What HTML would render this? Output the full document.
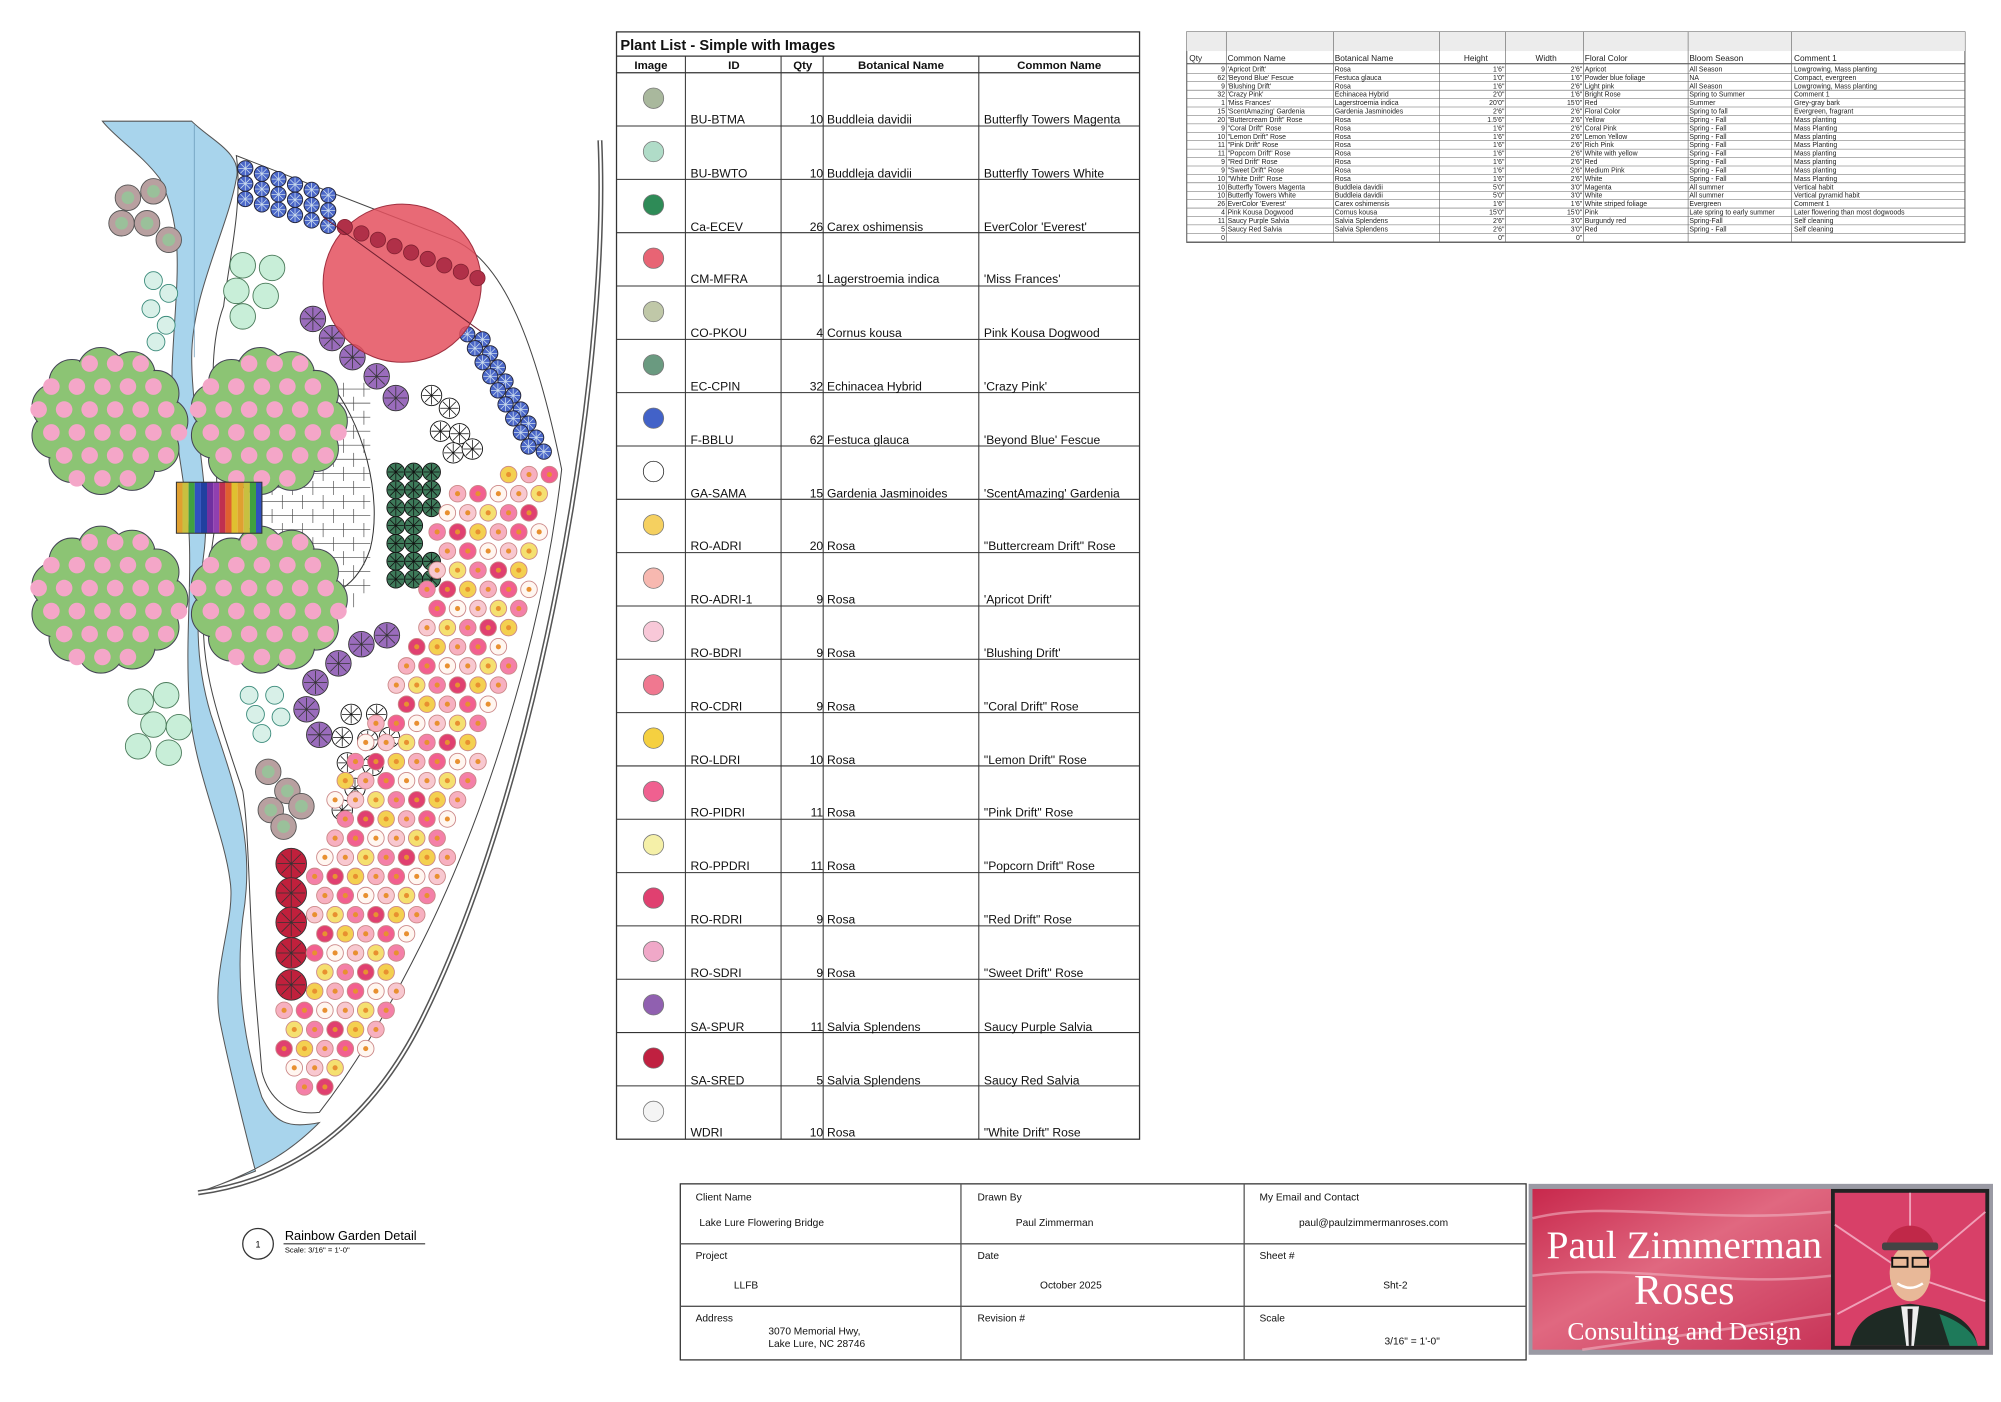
<!DOCTYPE html>
<html><head><meta charset="utf-8">
<style>
html,body{margin:0;padding:0;background:#fff;}
svg{display:block;}
text{font-family:"Liberation Sans",Arial,sans-serif;}
</style></head>
<body>
<svg id="g" width="2001" height="1402" viewBox="0 0 1568 1099" xmlns="http://www.w3.org/2000/svg">
<rect width="1568" height="1099" fill="#fff"/>
<!-- river -->
<path d="M80 95 L150 95 C165 110 190 120 185 140 C178 180 150 230 150 280 C150 330 165 380 160 430 C155 470 150 510 165 560 C185 620 200 660 190 720 C183 780 195 830 205 860 C215 880 225 885 250 880 C230 900 210 915 155 935 L200 918 C190 880 178 830 172 800 C165 760 185 720 180 690 C175 650 150 600 148 550 C145 500 150 460 148 420 C145 370 132 330 135 280 C138 220 145 180 125 140 C110 120 90 108 80 95 Z" fill="#a8d4ec" stroke="#555" stroke-width="0.8"/>
<line x1="152" y1="98" x2="152" y2="280" stroke="#6a9ab8" stroke-width="0.6"/>
<!-- garden wedge outline -->
<path d="M185 122 L355 188 C395 205 420 270 440 368 C425 500 380 640 330 740 C300 800 275 840 250 872 C225 875 210 860 205 840 L200 780 C195 720 195 650 190 620 C170 560 155 520 160 470 L170 400 C170 330 160 280 175 240 C180 200 190 160 185 122 Z" fill="#fff" stroke="#444" stroke-width="0.8"/>
<!-- outer curve -->
<path d="M470 110 C478 300 420 620 330 800 C290 880 230 925 155 935" fill="none" stroke="#555" stroke-width="4"/>
<path d="M470 110 C478 300 420 620 330 800 C290 880 230 925 155 935" fill="none" stroke="#fff" stroke-width="1.6"/>
<g id="plants"></g>
<!-- patio -->
<path d="M205 300 L255 296 C285 330 300 390 290 430 C280 460 260 470 235 470 L205 470 Z" fill="#fff" stroke="#333" stroke-width="0.8"/>
<g id="patio"></g>
<g id="trees"></g>
<g id="bridge"></g>
<circle cx="315" cy="222" r="62" fill="#e4505e" fill-opacity="0.85" stroke="#a03040" stroke-width="0.8"/>
<g id="over"></g>

<!-- caption -->
<circle cx="202" cy="975" r="12" fill="#fff" stroke="#333" stroke-width="1"/>
<text x="202" y="978" font-size="7" text-anchor="middle">1</text>
<text x="223" y="972" font-size="10">Rainbow Garden Detail</text>
<line x1="222" y1="975" x2="333" y2="975" stroke="#333" stroke-width="0.8"/>
<text x="223" y="982" font-size="6">Scale: 3/16" = 1'-0"</text>

<!-- plant list table -->
<g id="pl" font-size="9.5" fill="#111">
<rect x="483" y="25" width="410" height="868" fill="none" stroke="#333" stroke-width="1"/>
<text x="486" y="39" font-size="11.5" font-weight="bold">Plant List - Simple with Images</text>
<line x1="483" y1="44" x2="893" y2="44" stroke="#333"/>
<line x1="483" y1="57" x2="893" y2="57" stroke="#333"/>
<text x="510" y="54" font-size="9" font-weight="bold" text-anchor="middle">Image</text>
<text x="575" y="54" font-size="9" font-weight="bold" text-anchor="middle">ID</text>
<text x="629" y="54" font-size="9" font-weight="bold" text-anchor="middle">Qty</text>
<text x="706" y="54" font-size="9" font-weight="bold" text-anchor="middle">Botanical Name</text>
<text x="830" y="54" font-size="9" font-weight="bold" text-anchor="middle">Common Name</text>
</g>

<!-- top right table -->
<g id="tr" font-size="5.6" fill="#222">
<rect x="930" y="25" width="610" height="165" fill="none" stroke="#555" stroke-width="0.8"/>
<rect x="930" y="25" width="610" height="15" fill="#ececec"/>
<line x1="930" y1="50" x2="1540" y2="50" stroke="#444" stroke-width="0.8"/>
<text x="932" y="48" font-size="6.5">Qty</text>
<text x="962" y="48" font-size="6.5">Common Name</text>
<text x="1046" y="48" font-size="6.5">Botanical Name</text>
<text x="1166" y="48" font-size="6.5" text-anchor="end">Height</text>
<text x="1220" y="48" font-size="6.5" text-anchor="end">Width</text>
<text x="1242" y="48" font-size="6.5">Floral Color</text>
<text x="1324" y="48" font-size="6.5">Bloom Season</text>
<text x="1406" y="48" font-size="6.5">Comment 1</text>
</g>

<!-- title block -->
<g font-size="8" fill="#111">
<rect x="533" y="928" width="663" height="138" fill="none" stroke="#333" stroke-width="1"/>
<line x1="533" y1="975" x2="1196" y2="975" stroke="#555"/>
<line x1="533" y1="1024" x2="1196" y2="1024" stroke="#555"/>
<line x1="753" y1="928" x2="753" y2="1066" stroke="#555"/>
<line x1="975" y1="928" x2="975" y2="1066" stroke="#555"/>
<text x="545" y="941">Client Name</text>
<text x="548" y="961">Lake Lure Flowering Bridge</text>
<text x="766" y="941">Drawn By</text>
<text x="796" y="961">Paul Zimmerman</text>
<text x="987" y="941">My Email and Contact</text>
<text x="1018" y="961">paul@paulzimmermanroses.com</text>
<text x="545" y="987">Project</text>
<text x="575" y="1010">LLFB</text>
<text x="766" y="987">Date</text>
<text x="815" y="1010">October 2025</text>
<text x="987" y="987">Sheet #</text>
<text x="1084" y="1010">Sht-2</text>
<text x="545" y="1036">Address</text>
<text x="602" y="1046">3070 Memorial Hwy,</text>
<text x="602" y="1056">Lake Lure, NC  28746</text>
<text x="766" y="1036">Revision #</text>
<text x="987" y="1036">Scale</text>
<text x="1085" y="1054">3/16" = 1'-0"</text>
</g>
<!-- logo -->
<defs>
<linearGradient id="lg" x1="0" y1="0" x2="1" y2="1">
<stop offset="0" stop-color="#c8284c"/><stop offset="0.45" stop-color="#e06880"/><stop offset="1" stop-color="#c83458"/>
</linearGradient>
</defs>
<rect x="1198" y="928" width="364" height="134" fill="#9a9aa4"/>
<rect x="1201" y="932" width="234" height="126" fill="url(#lg)"/>
<path d="M1201 955 C1260 940 1330 960 1435 950 M1201 1000 C1280 990 1350 1010 1435 1000 M1240 1058 L1435 1030" stroke="#f0b0c0" stroke-width="2" fill="none" opacity="0.6"/>
<rect x="1435" y="932" width="124" height="126" fill="#222"/>
<rect x="1438" y="935" width="118" height="120" fill="#d84068"/>
<path d="M1497 935 L1497 1000 M1438 960 L1497 1000 L1556 950 M1440 1030 L1497 1000 L1556 1020" stroke="#f0a0b8" stroke-width="1.5" fill="none"/>
<path d="M1450 1055 C1455 1030 1475 1025 1497 1022 C1520 1025 1545 1030 1550 1055 Z" fill="#1e2a24"/>
<path d="M1520 1030 C1535 1035 1548 1045 1550 1055 L1528 1055 Z" fill="#1e7a5a"/>
<path d="M1490 1024 L1504 1024 L1500 1055 L1494 1055 Z" fill="#eee"/>
<path d="M1495 1026 L1499 1026 L1498 1055 L1496 1055 Z" fill="#222"/>
<ellipse cx="1497" cy="998" rx="16" ry="22" fill="#e8b898"/>
<path d="M1478 978 C1480 955 1514 955 1516 978 Z" fill="#c02848"/>
<rect x="1475" y="974" width="44" height="6" rx="2" fill="#444"/>
<rect x="1483" y="986" width="12" height="7" fill="none" stroke="#111" stroke-width="1.5"/>
<rect x="1499" y="986" width="12" height="7" fill="none" stroke="#111" stroke-width="1.5"/>
<path d="M1487 1006 Q1497 1013 1507 1006" stroke="#fff" stroke-width="2" fill="none"/>
<text x="1320" y="986" font-size="31" fill="#fff" text-anchor="middle" style="font-family:'Liberation Serif',serif">Paul Zimmerman</text>
<text x="1320" y="1022" font-size="33" fill="#fff" text-anchor="middle" style="font-family:'Liberation Serif',serif">Roses</text>
<text x="1320" y="1050" font-size="20" fill="#fff" text-anchor="middle" style="font-family:'Liberation Serif',serif">Consulting and Design</text>

<!-- static plant list rows -->
<g font-size="9.5" fill="#111">
<text x="541" y="97">BU-BTMA</text><text x="645" y="97" text-anchor="end">10</text><text x="648" y="97">Buddleia davidii</text><text x="771" y="97">Butterfly Towers Magenta</text>
<text x="541" y="139">BU-BWTO</text><text x="645" y="139" text-anchor="end">10</text><text x="648" y="139">Buddleja davidii</text><text x="771" y="139">Butterfly Towers White</text>
<text x="541" y="181">Ca-ECEV</text><text x="645" y="181" text-anchor="end">26</text><text x="648" y="181">Carex oshimensis</text><text x="771" y="181">EverColor 'Everest'</text>
<text x="541" y="222">CM-MFRA</text><text x="645" y="222" text-anchor="end">1</text><text x="648" y="222">Lagerstroemia indica</text><text x="771" y="222">'Miss Frances'</text>
<text x="541" y="264">CO-PKOU</text><text x="645" y="264" text-anchor="end">4</text><text x="648" y="264">Cornus kousa</text><text x="771" y="264">Pink Kousa Dogwood</text>
<text x="541" y="306">EC-CPIN</text><text x="645" y="306" text-anchor="end">32</text><text x="648" y="306">Echinacea Hybrid</text><text x="771" y="306">'Crazy Pink'</text>
<text x="541" y="348">F-BBLU</text><text x="645" y="348" text-anchor="end">62</text><text x="648" y="348">Festuca glauca</text><text x="771" y="348">'Beyond Blue' Fescue</text>
<text x="541" y="390">GA-SAMA</text><text x="645" y="390" text-anchor="end">15</text><text x="648" y="390">Gardenia Jasminoides</text><text x="771" y="390">'ScentAmazing' Gardenia</text>
<text x="541" y="431">RO-ADRI</text><text x="645" y="431" text-anchor="end">20</text><text x="648" y="431">Rosa</text><text x="771" y="431">"Buttercream Drift" Rose</text>
<text x="541" y="473">RO-ADRI-1</text><text x="645" y="473" text-anchor="end">9</text><text x="648" y="473">Rosa</text><text x="771" y="473">'Apricot Drift'</text>
<text x="541" y="515">RO-BDRI</text><text x="645" y="515" text-anchor="end">9</text><text x="648" y="515">Rosa</text><text x="771" y="515">'Blushing Drift'</text>
<text x="541" y="557">RO-CDRI</text><text x="645" y="557" text-anchor="end">9</text><text x="648" y="557">Rosa</text><text x="771" y="557">"Coral Drift" Rose</text>
<text x="541" y="599">RO-LDRI</text><text x="645" y="599" text-anchor="end">10</text><text x="648" y="599">Rosa</text><text x="771" y="599">"Lemon Drift" Rose</text>
<text x="541" y="640">RO-PIDRI</text><text x="645" y="640" text-anchor="end">11</text><text x="648" y="640">Rosa</text><text x="771" y="640">"Pink Drift" Rose</text>
<text x="541" y="682">RO-PPDRI</text><text x="645" y="682" text-anchor="end">11</text><text x="648" y="682">Rosa</text><text x="771" y="682">"Popcorn Drift" Rose</text>
<text x="541" y="724">RO-RDRI</text><text x="645" y="724" text-anchor="end">9</text><text x="648" y="724">Rosa</text><text x="771" y="724">"Red Drift" Rose</text>
<text x="541" y="766">RO-SDRI</text><text x="645" y="766" text-anchor="end">9</text><text x="648" y="766">Rosa</text><text x="771" y="766">"Sweet Drift" Rose</text>
<text x="541" y="808">SA-SPUR</text><text x="645" y="808" text-anchor="end">11</text><text x="648" y="808">Salvia Splendens</text><text x="771" y="808">Saucy Purple Salvia</text>
<text x="541" y="850">SA-SRED</text><text x="645" y="850" text-anchor="end">5</text><text x="648" y="850">Salvia Splendens</text><text x="771" y="850">Saucy Red Salvia</text>
<text x="541" y="891">WDRI</text><text x="645" y="891" text-anchor="end">10</text><text x="648" y="891">Rosa</text><text x="771" y="891">"White Drift" Rose</text>
</g>

<!-- static top-right table rows -->
<g font-size="5.4" fill="#222" transform="translate(0,56) scale(1,1.1) translate(0,-56)">
<text x="960" y="56" text-anchor="end">9</text><text x="962" y="56">'Apricot Drift'</text><text x="1046" y="56">Rosa</text><text x="1179" y="56" text-anchor="end">1'6"</text><text x="1240" y="56" text-anchor="end">2'6"</text><text x="1242" y="56">Apricot</text><text x="1324" y="56">All Season</text><text x="1406" y="56">Lowgrowing, Mass planting</text>
<text x="960" y="62" text-anchor="end">62</text><text x="962" y="62">'Beyond Blue' Fescue</text><text x="1046" y="62">Festuca glauca</text><text x="1179" y="62" text-anchor="end">1'0"</text><text x="1240" y="62" text-anchor="end">1'6"</text><text x="1242" y="62">Powder blue foliage</text><text x="1324" y="62">NA</text><text x="1406" y="62">Compact, evergreen</text>
<text x="960" y="68" text-anchor="end">9</text><text x="962" y="68">'Blushing Drift'</text><text x="1046" y="68">Rosa</text><text x="1179" y="68" text-anchor="end">1'6"</text><text x="1240" y="68" text-anchor="end">2'6"</text><text x="1242" y="68">Light pink</text><text x="1324" y="68">All Season</text><text x="1406" y="68">Lowgrowing, Mass planting</text>
<text x="960" y="74" text-anchor="end">32</text><text x="962" y="74">'Crazy Pink'</text><text x="1046" y="74">Echinacea Hybrid</text><text x="1179" y="74" text-anchor="end">2'0"</text><text x="1240" y="74" text-anchor="end">1'6"</text><text x="1242" y="74">Bright Rose</text><text x="1324" y="74">Spring to Summer</text><text x="1406" y="74">Comment 1</text>
<text x="960" y="80" text-anchor="end">1</text><text x="962" y="80">'Miss Frances'</text><text x="1046" y="80">Lagerstroemia indica</text><text x="1179" y="80" text-anchor="end">20'0"</text><text x="1240" y="80" text-anchor="end">15'0"</text><text x="1242" y="80">Red</text><text x="1324" y="80">Summer</text><text x="1406" y="80">Grey-gray bark</text>
<text x="960" y="86" text-anchor="end">15</text><text x="962" y="86">'ScentAmazing' Gardenia</text><text x="1046" y="86">Gardenia Jasminoides</text><text x="1179" y="86" text-anchor="end">2'6"</text><text x="1240" y="86" text-anchor="end">2'6"</text><text x="1242" y="86">Floral Color</text><text x="1324" y="86">Spring to fall</text><text x="1406" y="86">Evergreen, fragrant</text>
<text x="960" y="92" text-anchor="end">20</text><text x="962" y="92">"Buttercream Drift" Rose</text><text x="1046" y="92">Rosa</text><text x="1179" y="92" text-anchor="end">1.5'6"</text><text x="1240" y="92" text-anchor="end">2'6"</text><text x="1242" y="92">Yellow</text><text x="1324" y="92">Spring - Fall</text><text x="1406" y="92">Mass planting</text>
<text x="960" y="98" text-anchor="end">9</text><text x="962" y="98">"Coral Drift" Rose</text><text x="1046" y="98">Rosa</text><text x="1179" y="98" text-anchor="end">1'6"</text><text x="1240" y="98" text-anchor="end">2'6"</text><text x="1242" y="98">Coral Pink</text><text x="1324" y="98">Spring - Fall</text><text x="1406" y="98">Mass Planting</text>
<text x="960" y="104" text-anchor="end">10</text><text x="962" y="104">"Lemon Drift" Rose</text><text x="1046" y="104">Rosa</text><text x="1179" y="104" text-anchor="end">1'6"</text><text x="1240" y="104" text-anchor="end">2'6"</text><text x="1242" y="104">Lemon Yellow</text><text x="1324" y="104">Spring - Fall</text><text x="1406" y="104">Mass planting</text>
<text x="960" y="110" text-anchor="end">11</text><text x="962" y="110">"Pink Drift" Rose</text><text x="1046" y="110">Rosa</text><text x="1179" y="110" text-anchor="end">1'6"</text><text x="1240" y="110" text-anchor="end">2'6"</text><text x="1242" y="110">Rich Pink</text><text x="1324" y="110">Spring - Fall</text><text x="1406" y="110">Mass Planting</text>
<text x="960" y="116" text-anchor="end">11</text><text x="962" y="116">"Popcorn Drift" Rose</text><text x="1046" y="116">Rosa</text><text x="1179" y="116" text-anchor="end">1'6"</text><text x="1240" y="116" text-anchor="end">2'6"</text><text x="1242" y="116">White with yellow</text><text x="1324" y="116">Spring - Fall</text><text x="1406" y="116">Mass planting</text>
<text x="960" y="122" text-anchor="end">9</text><text x="962" y="122">"Red Drift" Rose</text><text x="1046" y="122">Rosa</text><text x="1179" y="122" text-anchor="end">1'6"</text><text x="1240" y="122" text-anchor="end">2'6"</text><text x="1242" y="122">Red</text><text x="1324" y="122">Spring - Fall</text><text x="1406" y="122">Mass planting</text>
<text x="960" y="128" text-anchor="end">9</text><text x="962" y="128">"Sweet Drift" Rose</text><text x="1046" y="128">Rosa</text><text x="1179" y="128" text-anchor="end">1'6"</text><text x="1240" y="128" text-anchor="end">2'6"</text><text x="1242" y="128">Medium Pink</text><text x="1324" y="128">Spring - Fall</text><text x="1406" y="128">Mass planting</text>
<text x="960" y="134" text-anchor="end">10</text><text x="962" y="134">"White Drift" Rose</text><text x="1046" y="134">Rosa</text><text x="1179" y="134" text-anchor="end">1'6"</text><text x="1240" y="134" text-anchor="end">2'6"</text><text x="1242" y="134">White</text><text x="1324" y="134">Spring - Fall</text><text x="1406" y="134">Mass Planting</text>
<text x="960" y="140" text-anchor="end">10</text><text x="962" y="140">Butterfly Towers Magenta</text><text x="1046" y="140">Buddleia davidii</text><text x="1179" y="140" text-anchor="end">5'0"</text><text x="1240" y="140" text-anchor="end">3'0"</text><text x="1242" y="140">Magenta</text><text x="1324" y="140">All summer</text><text x="1406" y="140">Vertical habit</text>
<text x="960" y="146" text-anchor="end">10</text><text x="962" y="146">Butterfly Towers White</text><text x="1046" y="146">Buddleia davidii</text><text x="1179" y="146" text-anchor="end">5'0"</text><text x="1240" y="146" text-anchor="end">3'0"</text><text x="1242" y="146">White</text><text x="1324" y="146">All summer</text><text x="1406" y="146">Vertical pyramid habit</text>
<text x="960" y="152" text-anchor="end">26</text><text x="962" y="152">EverColor 'Everest'</text><text x="1046" y="152">Carex oshimensis</text><text x="1179" y="152" text-anchor="end">1'6"</text><text x="1240" y="152" text-anchor="end">1'6"</text><text x="1242" y="152">White striped foliage</text><text x="1324" y="152">Evergreen</text><text x="1406" y="152">Comment 1</text>
<text x="960" y="158" text-anchor="end">4</text><text x="962" y="158">Pink Kousa Dogwood</text><text x="1046" y="158">Cornus kousa</text><text x="1179" y="158" text-anchor="end">15'0"</text><text x="1240" y="158" text-anchor="end">15'0"</text><text x="1242" y="158">Pink</text><text x="1324" y="158">Late spring to early summer</text><text x="1406" y="158">Later flowering than most dogwoods</text>
<text x="960" y="164" text-anchor="end">11</text><text x="962" y="164">Saucy Purple Salvia</text><text x="1046" y="164">Salvia Splendens</text><text x="1179" y="164" text-anchor="end">2'6"</text><text x="1240" y="164" text-anchor="end">3'0"</text><text x="1242" y="164">Burgundy red</text><text x="1324" y="164">Spring-Fall</text><text x="1406" y="164">Self cleaning</text>
<text x="960" y="170" text-anchor="end">5</text><text x="962" y="170">Saucy Red Salvia</text><text x="1046" y="170">Salvia Splendens</text><text x="1179" y="170" text-anchor="end">2'6"</text><text x="1240" y="170" text-anchor="end">3'0"</text><text x="1242" y="170">Red</text><text x="1324" y="170">Spring - Fall</text><text x="1406" y="170">Self cleaning</text>
<text x="960" y="176" text-anchor="end">0</text><text x="1179" y="176" text-anchor="end">0"</text><text x="1240" y="176" text-anchor="end">0"</text>
</g>
</svg>
<script>
(function(){
var NS="http://www.w3.org/2000/svg";
function el(p,t,a){var e=document.createElementNS(NS,t);for(var k in a)e.setAttribute(k,a[k]);p.appendChild(e);return e;}
var P=document.getElementById('plants'),T=document.getElementById('trees'),O=document.getElementById('over');
var pl=document.getElementById('pl');
[537,612,645,767].forEach(function(x){el(pl,'line',{x1:x,y1:44,x2:x,y2:893,stroke:'#333','stroke-width':0.8});});
var cols=['#a9b89d','#b0dcc8','#2e8b57','#e86474','#c0c8a8','#6a9a80','#4262c8','#ffffff','#f5d060','#f7b8b0','#f8c8d8','#f07890','#f5d040','#f06090','#f5f0a8','#e04070','#f0a8c8','#9060b0','#c02040','#f4f4f4'];
for(var i=0;i<20;i++){var y=57+i*41.8;if(i>0)el(pl,'line',{x1:483,y1:y,x2:893,y2:y,stroke:'#333','stroke-width':0.8});
 el(pl,'circle',{cx:512,cy:y+20,r:8,fill:cols[i],stroke:i==7?'#222':'#777','stroke-width':0.6});}
var tr=document.getElementById('tr');
[961,1045,1128,1180,1241,1323,1404].forEach(function(x){el(tr,'line',{x1:x,y1:25,x2:x,y2:190,stroke:'#666','stroke-width':0.5});});
for(var j=0;j<21;j++){var yy=57.5+j*6.6;el(tr,'line',{x1:930,y1:yy,x2:1540,y2:yy,stroke:'#666','stroke-width':0.4});}
var pa=document.getElementById('patio');
for(var y=305;y<470;y+=11)el(pa,'line',{x1:205,y1:y,x2:290,y2:y,stroke:'#444','stroke-width':0.5});
for(var y=300,r=0;y<470;y+=11,r++)for(var x=205+(r%2)*8;x<290;x+=16)el(pa,'line',{x1:x,y1:y,x2:x,y2:y+11,stroke:'#444','stroke-width':0.5});
function tree(cx,cy){var g=el(T,'g',{});
 for(var k=0;k<11;k++){var a=k/11*Math.PI*2;el(g,'circle',{cx:cx+Math.cos(a)*44,cy:cy+Math.sin(a)*40,r:18,fill:'#8cc474',stroke:'#445',"stroke-width":0.8});}
 el(g,'ellipse',{cx:cx,cy:cy,rx:50,ry:46,fill:'#8cc474'});
 for(var k=0;k<11;k++){var a=k/11*Math.PI*2;el(g,'circle',{cx:cx+Math.cos(a)*44,cy:cy+Math.sin(a)*40,r:17,fill:'#8cc474'});}
 for(var dy=-45;dy<=45;dy+=18)for(var dx=-55+((dy+45)/18%2)*10;dx<=55;dx+=20){if((dx*dx)/3600+(dy*dy)/2700<1)el(g,'circle',{cx:cx+dx,cy:cy+dy,r:6.5,fill:'#f4a6c8'});}
}
tree(85,330);tree(210,330);tree(85,470);tree(210,470);
var B=document.getElementById('bridge');var bc=['#e0a030','#c8c040','#40a040','#3050c0','#2040a0','#7030a0','#9040b0','#c03050','#e06030','#e0c030'];
for(var k=0;k<14;k++)el(B,'rect',{x:138+k*4.8,y:378,width:4.8,height:40,fill:bc[k%bc.length]});
el(B,'rect',{x:138,y:378,width:67,height:40,fill:'none',stroke:'#333','stroke-width':0.8});
function spokes(g,x,y,r,c){for(var k=0;k<4;k++){var a=k*Math.PI/4;el(g,'line',{x1:x-Math.cos(a)*r,y1:y-Math.sin(a)*r,x2:x+Math.cos(a)*r,y2:y+Math.sin(a)*r,stroke:c,'stroke-width':0.6});}}
function circ(x,y,r,f,s,sp){el(P,'circle',{cx:x,cy:y,r:r,fill:f,stroke:s||'#333','stroke-width':0.7});if(sp)spokes(P,x,y,r*0.9,sp);}
for(var i=0;i<6;i++)for(var j=0;j<3;j++){var x=192+i*13,y=132+j*12+i*4.2;circ(x,y,6,'#4a66c8','#223','#cde');}
for(var i=0;i<9;i++)for(var j=0;j<2;j++){var x=366+i*6+j*12,y=262+i*11+j*4;circ(x,y,6,'#4a66c8','#223','#cde');}
[[100,155],[120,150],[95,175],[115,175],[132,188],[210,605],[225,620],[212,635],[236,632],[222,648]].forEach(function(p){circ(p[0],p[1],10,'#b8a0a0','#555');el(P,'circle',{cx:p[0],cy:p[1],r:5,fill:'#9ac09a'});});
[[190,208],[213,210],[185,228],[208,232],[190,248],[110,550],[130,545],[120,568],[140,570],[108,585],[132,590]].forEach(function(p){circ(p[0],p[1],10,'#c8eed8','#4a7a5a');});
[[120,220],[132,230],[118,242],[130,255],[122,268],[195,545],[215,545],[200,560],[220,562],[205,575]].forEach(function(p){circ(p[0],p[1],7,'#d8f0e8','#3a8a7a');});
[[245,250],[260,265],[276,280],[295,295],[310,312],[303,498],[283,505],[265,520],[247,535],[240,556],[250,576]].forEach(function(p){circ(p[0],p[1],10,'#9a6cbc','#333','#333');});
[[338,310],[352,320],[345,338],[360,340],[355,355],[370,352],[275,560],[295,560],[268,578],[288,580],[305,578],[272,598],[292,600],[278,618],[268,635]].forEach(function(p){circ(p[0],p[1],8,'#fff','#111','#111');});
for(var i=0;i<7;i++)for(var j=0;j<3;j++){if((i==3||i==4)&&j==2)continue;circ(310+j*14,370+i*14,7,'#3e7a5a','#111','#111');}
[677,700,723,747,772].forEach(function(y){circ(228,y,12,'#c0203c','#333','#333');});
var poly=[[345,380],[436,366],[415,470],[375,600],[335,720],[295,815],[250,865],[212,835],[236,640],[300,560],[330,470]];
function inside(x,y){var c=false;for(var i=0,j=poly.length-1;i<poly.length;j=i++){var a=poly[i],b=poly[j];if(((a[1]>y)!=(b[1]>y))&&(x<(b[0]-a[0])*(y-a[1])/(b[1]-a[1])+a[0]))c=!c;}return c;}
var rc=['#f4d050','#f7b0c0','#f26090','#fff6f0','#f8c8d0','#f5e070','#f480a8','#e04070'];
for(var y=372;y<860;y+=15){for(var x=200;x<440;x+=16){var xx=x+((y/15)%2)*8;if(inside(xx,y)&&!(xx<262&&y<665&&y>560)&&!(xx<244&&y>662&&y<785)){var c=rc[(Math.floor(xx/16)+Math.floor(y/15)*3)%rc.length];circ(xx,y,6.5,c,'#c88');el(P,'circle',{cx:xx,cy:y,r:2,fill:'#e89030'});}}}
for(var i=0;i<9;i++){var x=270+i*13,y=178+i*5;el(O,'circle',{cx:x,cy:y,r:6,fill:'#b03048',stroke:'#802030','stroke-width':0.6});}
el(O,'line',{x1:253,y1:170,x2:377,y2:260,stroke:'#702030','stroke-width':0.8});
})();
</script>
</body></html>
